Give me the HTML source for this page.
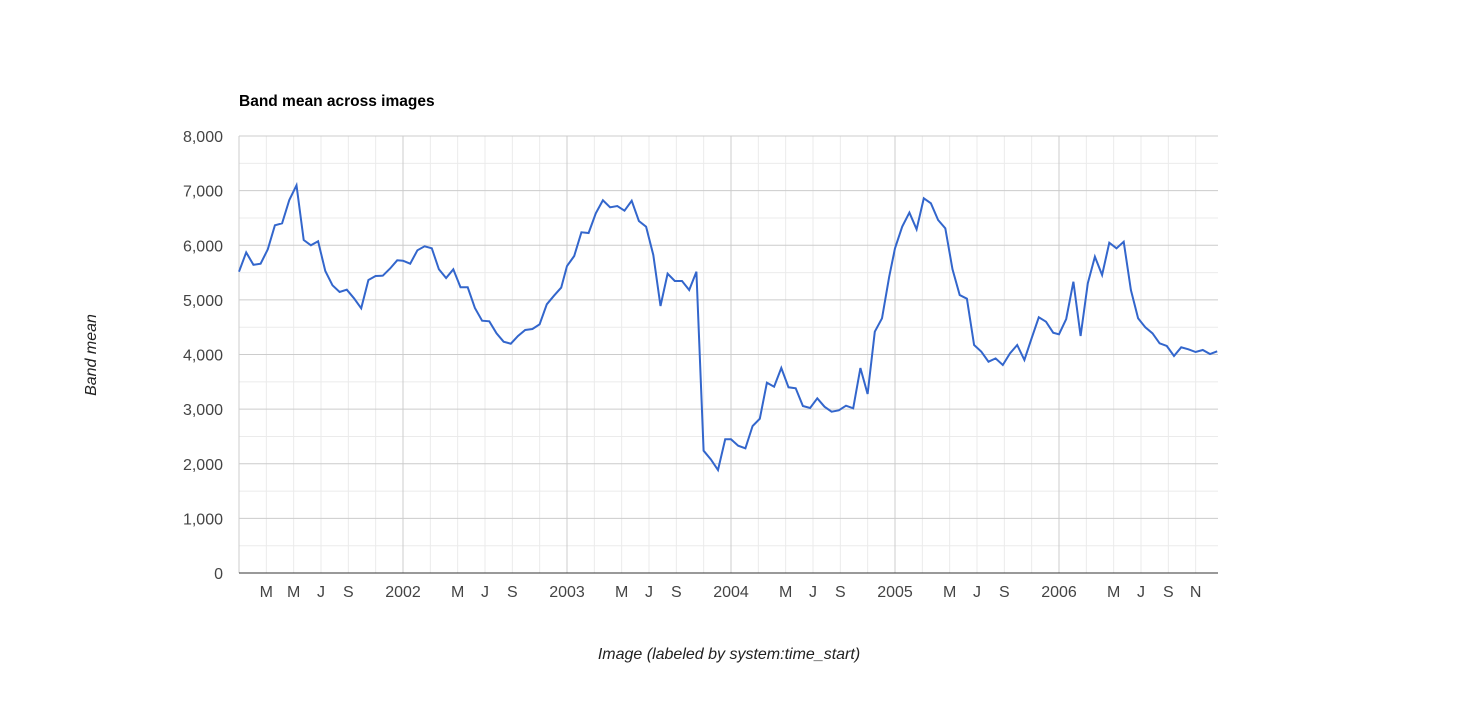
<!DOCTYPE html>
<html><head><meta charset="utf-8"><style>
body{margin:0;background:#fff;font-family:"Liberation Sans",Arial,sans-serif}
svg text{font-family:"Liberation Sans",Arial,sans-serif}
</style></head><body>
<svg id="chart" width="1458" height="709" xmlns="http://www.w3.org/2000/svg">
<rect width="1458" height="709" fill="#fff"/>
<text x="239" y="106" font-size="15.5" font-weight="bold" fill="#000">Band mean across images</text>
<g id="grid"></g><g id="ylabels"></g><g id="xlabels"></g>
<path id="line" fill="none" stroke="#3366cc" stroke-width="2"/>
<line x1="239" x2="1218" y1="573" y2="573" stroke="#333" stroke-width="1"/>
<text transform="translate(96,355) rotate(-90)" text-anchor="middle" font-size="16" font-style="italic" fill="#222">Band mean</text>
<text x="729" y="659" text-anchor="middle" font-size="16" font-style="italic" fill="#222">Image (labeled by system:time_start)</text>
</svg>
<script>
const years=[2001,2002,2003,2004,2005,2006];
const doys=[1,17,33,49,65,81,97,113,129,145,161,177,193,209,225,241,257,273,289,305,321,337,353];
const values2001=[5516,5870,5643,5663,5926,6365,6402,6828,7097,6096,5999,6072,5529,5267,5144,5187,5029,4846,5364,5437,5443,5572,5725];
const values2002=[5718,5663,5907,5981,5944,5560,5401,5560,5231,5231,4851,4619,4607,4388,4235,4198,4339,4449,4467,4552,4919,5077,5225];
const values2003=[5620,5803,6237,6224,6585,6823,6695,6718,6633,6814,6444,6340,5822,4888,5480,5345,5345,5181,5516,2239,2081,1886,2448];
const values2004=[2448,2331,2283,2691,2825,3484,3411,3753,3400,3381,3057,3020,3198,3045,2953,2978,3063,3015,3753,3277,4418,4662,5425];
const values2005=[5944,6340,6597,6292,6860,6768,6462,6310,5560,5090,5022,4174,4052,3868,3929,3808,4022,4174,3899,4296,4681,4601,4399];
const values2006=[4369,4650,5333,4339,5303,5790,5455,6046,5944,6065,5181,4662,4498,4388,4205,4155,3973,4132,4095,4046,4082,4009,4058];
const yTicks=[0,1000,2000,3000,4000,5000,6000,7000,8000];
const yTickLabels=["0","1,000","2,000","3,000","4,000","5,000","6,000","7,000","8,000"];
const monthLabels=["","M","M","J","S","N"];
const series=[values2001,values2002,values2003,values2004,values2005,values2006];
const X0=239,X1=1218,Y0=573,Y1=136,PXY=164;
function xScale(yearFrac){return X0+(yearFrac-2001)*PXY;}
function yScale(v){return Y0-(v/8000)*(Y0-Y1);}
const NS="http://www.w3.org/2000/svg";
const grid=document.getElementById('grid'),yl=document.getElementById('ylabels'),xl=document.getElementById('xlabels');
function mk(tag,attrs,parent){const e=document.createElementNS(NS,tag);for(const k in attrs)e.setAttribute(k,attrs[k]);parent.appendChild(e);return e;}
for(let v=500;v<8000;v+=1000){const l=mk('line',{x1:X0,x2:X1,y1:yScale(v),y2:yScale(v),stroke:'#ebebeb'},grid);

}
for(let y=2001;y<2007;y++){for(let m=0;m<12;m+=2){const x=xScale(y+m/12);if(x>X1)continue;
const major=m===0;const l=mk('line',{x1:x,x2:x,y1:Y1,y2:Y0,stroke:major?'#cccccc':'#ebebeb'},grid);


let label=major?(y===2001?'':String(y)):monthLabels[m/2];
if(m===10&&y!==2006)label='';
if(m===2&&y!==2001)label='';
if(label){const t=mk('text',{x:x,y:597,'text-anchor':'middle','font-size':16,fill:'#444'},xl);t.textContent=label;

}}}
yTicks.forEach((v,i)=>{const l=mk('line',{x1:X0,x2:X1,y1:yScale(v),y2:yScale(v),stroke:'#cccccc'},grid);


const t=mk('text',{x:223,y:yScale(v)+6,'text-anchor':'end','font-size':16,fill:'#444'},yl);t.textContent=yTickLabels[i];

});
let d='';
series.forEach((vals,yi)=>{vals.forEach((v,i)=>{const x=xScale(years[yi]+(doys[i]-1)/365);const y=yScale(v);d+=(d?'L':'M')+x.toFixed(1)+','+y.toFixed(1);});});
document.getElementById('line').setAttribute('d',d);
</script>
</body></html>
